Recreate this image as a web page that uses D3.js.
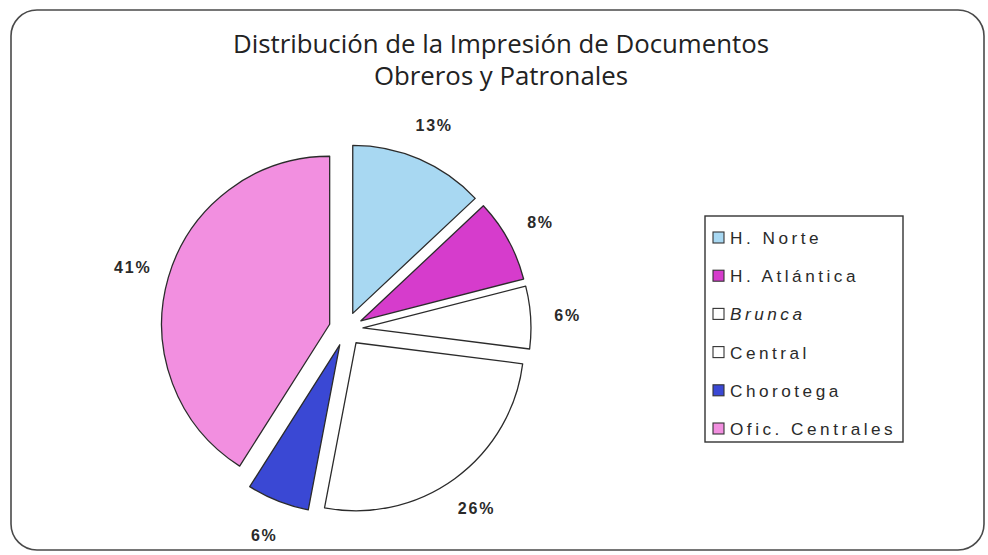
<!DOCTYPE html>
<html>
<head>
<meta charset="utf-8">
<script src="https://cdn.jsdelivr.net/npm/d3@7"></script>
<style>
  html, body { margin: 0; padding: 0; background: #fff; }
  svg { display: block; }
</style>
</head>
<body>
<div id="chart"></div>
<script>
// data
const categories = ["H. Norte", "H. Atlántica", "Brunca", "Central", "Chorotega", "Ofic. Centrales"];
const shares = [13, 8, 6, 26, 6, 41];
const sliceColors = ["#a8d8f2", "#d63ccc", "#ffffff", "#ffffff", "#3a48d4", "#f28fe0"];
const titleLines = ["Distribución de la Impresión de Documentos", "Obreros y Patronales"];

const width = 988, height = 555;
const cx = 346, cy = 329, radius = 168, explode = 17, labelRadius = 222;

const svg = d3.select("#chart")
  .append("svg")
  .attr("width", width)
  .attr("height", height);

// rounded frame
svg.append("rect")
  .attr("x", 11).attr("y", 10)
  .attr("width", 973).attr("height", 540)
  .attr("rx", 26)
  .attr("fill", "#fff")
  .attr("stroke", "#4a4a4a")
  .attr("stroke-width", 1.6);

// title
svg.append("g")
  .selectAll("text")
  .data(titleLines)
  .join("text")
  .attr("x", 501)
  .attr("y", (d, i) => 53 + i * 32)
  .attr("text-anchor", "middle")
  .attr("font-family", "'Open Sans', sans-serif")
  .attr("font-size", 25.8)
  .attr("fill", "#222")
  .text((d) => d);

// pie
const pie = d3.pie().sort(null).value((d) => d);
const arcs = pie(shares);
const arc = d3.arc().innerRadius(0).outerRadius(radius);
const labelArc = d3.arc().innerRadius(labelRadius).outerRadius(labelRadius);

const g = svg.append("g").attr("transform", `translate(${cx}, ${cy})`);

g.selectAll(".slice")
  .data(arcs)
  .join("path")
  .attr("class", "slice")
  .attr("transform", (d) => {
    const a = (d.startAngle + d.endAngle) / 2;
    return `translate(${Math.sin(a) * explode}, ${-Math.cos(a) * explode})`;
  })
  .attr("d", arc)
  .attr("fill", (d, i) => sliceColors[i])
  .attr("stroke", "#2b2b2b")
  .attr("stroke-width", 1.3)
  .attr("stroke-linejoin", "round");

// percent labels
g.selectAll(".pct")
  .data(arcs)
  .join("text")
  .attr("class", "pct")
  .attr("x", (d) => labelArc.centroid(d)[0])
  .attr("y", (d) => labelArc.centroid(d)[1])
  .attr("dy", "0.35em")
  .attr("text-anchor", "middle")
  .attr("font-family", "'Liberation Sans', Arial, sans-serif")
  .attr("font-weight", "bold")
  .attr("font-size", 16)
  .attr("letter-spacing", 1.8)
  .attr("fill", "#2a2a2a")
  .text((d) => `${d.data}%`);

// legend
const legend = svg.append("g").attr("transform", "translate(705, 216)");
legend.append("rect")
  .attr("width", 198).attr("height", 226)
  .attr("fill", "#fff")
  .attr("stroke", "#333")
  .attr("stroke-width", 1.4);

const items = legend.selectAll(".item")
  .data(categories)
  .join("g")
  .attr("class", "item")
  .attr("transform", (d, i) => `translate(0, ${22 + i * 38.2})`);

items.append("rect")
  .attr("x", 8).attr("y", -6)
  .attr("width", 11).attr("height", 11)
  .attr("fill", (d, i) => sliceColors[i])
  .attr("stroke", "#333")
  .attr("stroke-width", 1.1);

items.append("text")
  .attr("x", 25)
  .attr("dy", "0.35em")
  .attr("font-family", "'Liberation Sans', Arial, sans-serif")
  .attr("font-size", 17.2)
  .attr("letter-spacing", 3.5)
  .attr("font-style", (d) => d === "Brunca" ? "italic" : "normal")
  .attr("fill", "#2a2a2a")
  .text((d) => d);
</script>
</body>
</html>
